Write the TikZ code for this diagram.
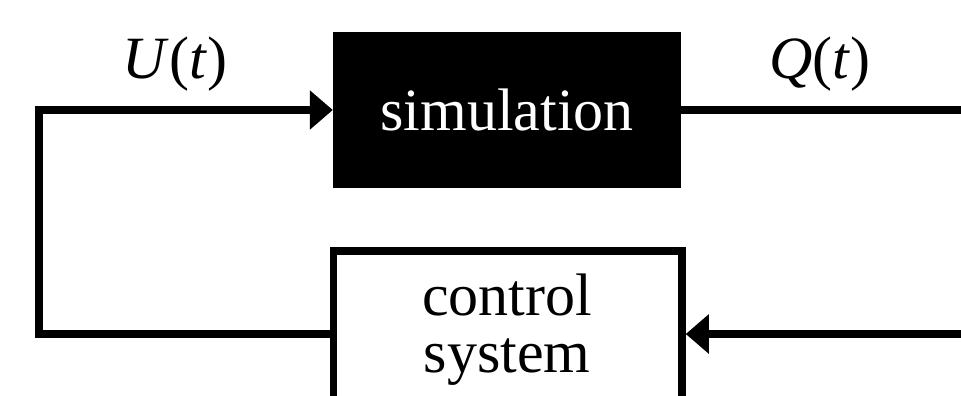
\documentclass[tikz,border=0pt]{standalone}
\usepackage{fontspec}
\setmainfont{Liberation Serif}
\usetikzlibrary{arrows.meta,calc}

\begin{document}
\begin{tikzpicture}[x=1pt,y=-1pt,
  bigtext/.style={font=\fontsize{60}{57}\selectfont},
  wire/.style={line width=8pt},
  feed/.style={wire,-{Triangle[length=23pt,width=38pt]}},
  blackbox/.style={rectangle,fill=black,text=white,inner sep=0pt,
    minimum width=348pt,minimum height=156pt,bigtext},
  openbox/.style={rectangle,draw=black,line width=7.5pt,inner sep=0pt,
    minimum width=348.5pt,minimum height=209pt}]
  \useasboundingbox (0,0) rectangle (961,396);
  \clip (0,0) rectangle (961,396);

  % plant and controller blocks
  \node[blackbox] (sim) at (507,110) {simulation};
  \node[openbox] (ctrl) at (507.75,355.5) {};
  \node[bigtext,align=center] (ctrltext) at (507,329.5) {control\\system};

  % signal labels
  \node[bigtext,anchor=base,inner sep=0pt] (ulab) at (175,78) {\textit{U}(\textit{t})};
  \node[bigtext,anchor=base,inner sep=0pt] (qlab) at (820,78) {\textit{Q}(\textit{t})};

  % loop routing points
  \coordinate (lc) at (38.5,334);
  \coordinate (rin) at (975,334);
  \coordinate (rout) at (975,110);

  % feedback loop
  \draw[feed] (ctrl.west |- lc) -- (lc) |- (sim.west);
  \draw[wire] (sim.east) -- (rout);
  \draw[feed] (rin) -- (ctrl.east |- rin);
\end{tikzpicture}
\end{document}
